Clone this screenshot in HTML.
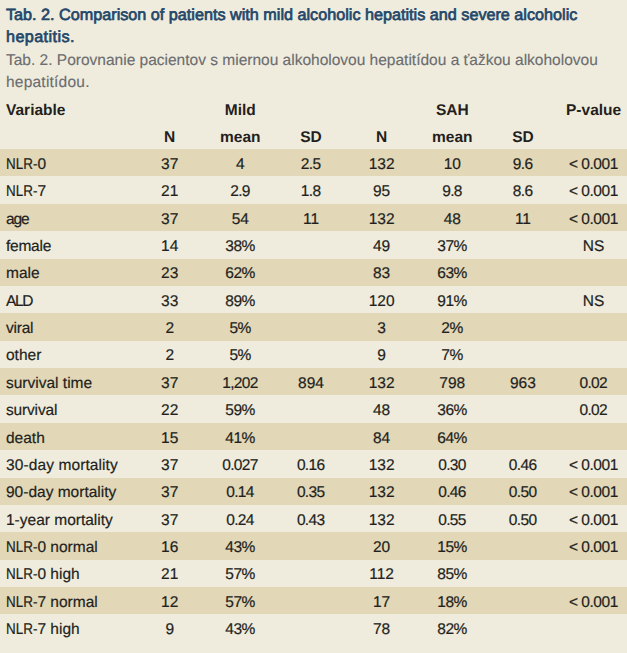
<!DOCTYPE html>
<html><head><meta charset="utf-8"><style>
html,body{margin:0;padding:0;}
body{width:627px;height:653px;overflow:hidden;background:#f0ecdd;position:relative;font-family:"Liberation Sans",sans-serif;text-rendering:geometricPrecision;color:#231f20;}
.t{position:absolute;white-space:nowrap;line-height:1.117;-webkit-text-stroke:0.2px currentColor;}
.b{font-weight:bold;-webkit-text-stroke:0px currentColor;}
.blue{color:#23476a;-webkit-text-stroke:0.7px currentColor;}
.gray{color:#6b6d70;-webkit-text-stroke:0.15px currentColor;}
.row{position:absolute;left:0;width:627px;height:27.375px;}
.dk{background:#e2d7b7;}
</style></head><body>
<div class="t blue" style="left:6.000px;top:6.339px;font-size:16.2px;text-align:left">Tab. 2. Comparison of patients with mild alcoholic hepatitis and severe alcoholic</div>
<div class="t blue" style="left:6.000px;top:28.339px;font-size:16.2px;text-align:left"><span style="letter-spacing:0.4px">hepatitis.</span></div>
<div class="t gray" style="left:6.000px;top:51.972px;font-size:15.5px;text-align:left">Tab. 2. Porovnanie pacientov s miernou alkoholovou hepatitídou a ťažkou alkoholovou</div>
<div class="t gray" style="left:6.000px;top:73.972px;font-size:15.5px;text-align:left"><span style="letter-spacing:0.22px">hepatitídou.</span></div>
<div class="t b" style="left:6.000px;top:102.022px;font-size:15.5px;text-align:left">Variable</div>
<div class="t b" style="left:205.025px;top:102.022px;font-size:15.5px;width:70.650px;text-align:center">Mild</div>
<div class="t b" style="left:416.975px;top:102.022px;font-size:15.5px;width:70.650px;text-align:center">SAH</div>
<div class="t b" style="left:558.275px;top:102.022px;font-size:15.5px;width:70.650px;text-align:center">P-value</div>
<div class="t b" style="left:134.375px;top:129.398px;font-size:15.5px;width:70.650px;text-align:center">N</div>
<div class="t b" style="left:205.025px;top:129.398px;font-size:15.5px;width:70.650px;text-align:center">mean</div>
<div class="t b" style="left:275.675px;top:129.398px;font-size:15.5px;width:70.650px;text-align:center">SD</div>
<div class="t b" style="left:346.325px;top:129.398px;font-size:15.5px;width:70.650px;text-align:center">N</div>
<div class="t b" style="left:416.975px;top:129.398px;font-size:15.5px;width:70.650px;text-align:center">mean</div>
<div class="t b" style="left:487.625px;top:129.398px;font-size:15.5px;width:70.650px;text-align:center">SD</div>
<div class="row dk" style="top:149.000px"></div>
<div class="t" style="left:6.000px;top:155.773px;font-size:15.5px;text-align:left"><span style="display:inline-block;width:31.4px"><span style="display:inline-block;transform:scaleX(0.867);transform-origin:0 0">NLR-</span></span>0</div>
<div class="t" style="left:134.375px;top:155.773px;font-size:15.5px;width:70.650px;text-align:center">37</div>
<div class="t" style="left:205.025px;top:155.773px;font-size:15.5px;width:70.650px;text-align:center">4</div>
<div class="t" style="left:275.675px;top:155.773px;font-size:15.5px;width:70.650px;text-align:center"><span style="letter-spacing:-0.65px;margin-right:0.65px">2.5</span></div>
<div class="t" style="left:346.325px;top:155.773px;font-size:15.5px;width:70.650px;text-align:center">132</div>
<div class="t" style="left:416.975px;top:155.773px;font-size:15.5px;width:70.650px;text-align:center">10</div>
<div class="t" style="left:487.625px;top:155.773px;font-size:15.5px;width:70.650px;text-align:center"><span style="letter-spacing:-0.65px;margin-right:0.65px">9.6</span></div>
<div class="t" style="left:558.275px;top:155.773px;font-size:15.5px;width:70.650px;text-align:center"><span style="letter-spacing:-0.47px;margin-right:0.47px">&lt; 0.001</span></div>
<div class="t" style="left:6.000px;top:183.148px;font-size:15.5px;text-align:left"><span style="display:inline-block;width:31.4px"><span style="display:inline-block;transform:scaleX(0.867);transform-origin:0 0">NLR-</span></span>7</div>
<div class="t" style="left:134.375px;top:183.148px;font-size:15.5px;width:70.650px;text-align:center">21</div>
<div class="t" style="left:205.025px;top:183.148px;font-size:15.5px;width:70.650px;text-align:center"><span style="letter-spacing:-0.65px;margin-right:0.65px">2.9</span></div>
<div class="t" style="left:275.675px;top:183.148px;font-size:15.5px;width:70.650px;text-align:center"><span style="letter-spacing:-0.65px;margin-right:0.65px">1.8</span></div>
<div class="t" style="left:346.325px;top:183.148px;font-size:15.5px;width:70.650px;text-align:center">95</div>
<div class="t" style="left:416.975px;top:183.148px;font-size:15.5px;width:70.650px;text-align:center"><span style="letter-spacing:-0.65px;margin-right:0.65px">9.8</span></div>
<div class="t" style="left:487.625px;top:183.148px;font-size:15.5px;width:70.650px;text-align:center"><span style="letter-spacing:-0.65px;margin-right:0.65px">8.6</span></div>
<div class="t" style="left:558.275px;top:183.148px;font-size:15.5px;width:70.650px;text-align:center"><span style="letter-spacing:-0.47px;margin-right:0.47px">&lt; 0.001</span></div>
<div class="row dk" style="top:203.750px"></div>
<div class="t" style="left:6.000px;top:210.523px;font-size:15.5px;text-align:left"><span style="letter-spacing:-1.1px">age</span></div>
<div class="t" style="left:134.375px;top:210.523px;font-size:15.5px;width:70.650px;text-align:center">37</div>
<div class="t" style="left:205.025px;top:210.523px;font-size:15.5px;width:70.650px;text-align:center">54</div>
<div class="t" style="left:275.675px;top:210.523px;font-size:15.5px;width:70.650px;text-align:center">11</div>
<div class="t" style="left:346.325px;top:210.523px;font-size:15.5px;width:70.650px;text-align:center">132</div>
<div class="t" style="left:416.975px;top:210.523px;font-size:15.5px;width:70.650px;text-align:center">48</div>
<div class="t" style="left:487.625px;top:210.523px;font-size:15.5px;width:70.650px;text-align:center">11</div>
<div class="t" style="left:558.275px;top:210.523px;font-size:15.5px;width:70.650px;text-align:center"><span style="letter-spacing:-0.47px;margin-right:0.47px">&lt; 0.001</span></div>
<div class="t" style="left:6.000px;top:237.898px;font-size:15.5px;text-align:left"><span style="letter-spacing:-0.25px">female</span></div>
<div class="t" style="left:134.375px;top:237.898px;font-size:15.5px;width:70.650px;text-align:center">14</div>
<div class="t" style="left:205.025px;top:237.898px;font-size:15.5px;width:70.650px;text-align:center"><span style="letter-spacing:-0.5px;margin-right:0.5px">38%</span></div>
<div class="t" style="left:346.325px;top:237.898px;font-size:15.5px;width:70.650px;text-align:center">49</div>
<div class="t" style="left:416.975px;top:237.898px;font-size:15.5px;width:70.650px;text-align:center"><span style="letter-spacing:-0.5px;margin-right:0.5px">37%</span></div>
<div class="t" style="left:558.275px;top:237.898px;font-size:15.5px;width:70.650px;text-align:center">NS</div>
<div class="row dk" style="top:258.500px"></div>
<div class="t" style="left:6.000px;top:265.273px;font-size:15.5px;text-align:left">male</div>
<div class="t" style="left:134.375px;top:265.273px;font-size:15.5px;width:70.650px;text-align:center">23</div>
<div class="t" style="left:205.025px;top:265.273px;font-size:15.5px;width:70.650px;text-align:center"><span style="letter-spacing:-0.5px;margin-right:0.5px">62%</span></div>
<div class="t" style="left:346.325px;top:265.273px;font-size:15.5px;width:70.650px;text-align:center">83</div>
<div class="t" style="left:416.975px;top:265.273px;font-size:15.5px;width:70.650px;text-align:center"><span style="letter-spacing:-0.5px;margin-right:0.5px">63%</span></div>
<div class="t" style="left:6.000px;top:292.648px;font-size:15.5px;text-align:left"><span style="letter-spacing:-1.3px">ALD</span></div>
<div class="t" style="left:134.375px;top:292.648px;font-size:15.5px;width:70.650px;text-align:center">33</div>
<div class="t" style="left:205.025px;top:292.648px;font-size:15.5px;width:70.650px;text-align:center"><span style="letter-spacing:-0.5px;margin-right:0.5px">89%</span></div>
<div class="t" style="left:346.325px;top:292.648px;font-size:15.5px;width:70.650px;text-align:center">120</div>
<div class="t" style="left:416.975px;top:292.648px;font-size:15.5px;width:70.650px;text-align:center"><span style="letter-spacing:-0.5px;margin-right:0.5px">91%</span></div>
<div class="t" style="left:558.275px;top:292.648px;font-size:15.5px;width:70.650px;text-align:center">NS</div>
<div class="row dk" style="top:313.250px"></div>
<div class="t" style="left:6.000px;top:320.023px;font-size:15.5px;text-align:left"><span style="letter-spacing:-0.22px">viral</span></div>
<div class="t" style="left:134.375px;top:320.023px;font-size:15.5px;width:70.650px;text-align:center">2</div>
<div class="t" style="left:205.025px;top:320.023px;font-size:15.5px;width:70.650px;text-align:center"><span style="letter-spacing:-0.5px;margin-right:0.5px">5%</span></div>
<div class="t" style="left:346.325px;top:320.023px;font-size:15.5px;width:70.650px;text-align:center">3</div>
<div class="t" style="left:416.975px;top:320.023px;font-size:15.5px;width:70.650px;text-align:center"><span style="letter-spacing:-0.5px;margin-right:0.5px">2%</span></div>
<div class="t" style="left:6.000px;top:347.398px;font-size:15.5px;text-align:left">other</div>
<div class="t" style="left:134.375px;top:347.398px;font-size:15.5px;width:70.650px;text-align:center">2</div>
<div class="t" style="left:205.025px;top:347.398px;font-size:15.5px;width:70.650px;text-align:center"><span style="letter-spacing:-0.5px;margin-right:0.5px">5%</span></div>
<div class="t" style="left:346.325px;top:347.398px;font-size:15.5px;width:70.650px;text-align:center">9</div>
<div class="t" style="left:416.975px;top:347.398px;font-size:15.5px;width:70.650px;text-align:center"><span style="letter-spacing:-0.5px;margin-right:0.5px">7%</span></div>
<div class="row dk" style="top:368.000px"></div>
<div class="t" style="left:6.000px;top:374.773px;font-size:15.5px;text-align:left">survival time</div>
<div class="t" style="left:134.375px;top:374.773px;font-size:15.5px;width:70.650px;text-align:center">37</div>
<div class="t" style="left:205.025px;top:374.773px;font-size:15.5px;width:70.650px;text-align:center"><span style="letter-spacing:-0.65px;margin-right:0.65px">1,202</span></div>
<div class="t" style="left:275.675px;top:374.773px;font-size:15.5px;width:70.650px;text-align:center">894</div>
<div class="t" style="left:346.325px;top:374.773px;font-size:15.5px;width:70.650px;text-align:center">132</div>
<div class="t" style="left:416.975px;top:374.773px;font-size:15.5px;width:70.650px;text-align:center">798</div>
<div class="t" style="left:487.625px;top:374.773px;font-size:15.5px;width:70.650px;text-align:center">963</div>
<div class="t" style="left:558.275px;top:374.773px;font-size:15.5px;width:70.650px;text-align:center"><span style="letter-spacing:-0.65px;margin-right:0.65px">0.02</span></div>
<div class="t" style="left:6.000px;top:402.148px;font-size:15.5px;text-align:left"><span style="letter-spacing:-0.17px">survival</span></div>
<div class="t" style="left:134.375px;top:402.148px;font-size:15.5px;width:70.650px;text-align:center">22</div>
<div class="t" style="left:205.025px;top:402.148px;font-size:15.5px;width:70.650px;text-align:center"><span style="letter-spacing:-0.5px;margin-right:0.5px">59%</span></div>
<div class="t" style="left:346.325px;top:402.148px;font-size:15.5px;width:70.650px;text-align:center">48</div>
<div class="t" style="left:416.975px;top:402.148px;font-size:15.5px;width:70.650px;text-align:center"><span style="letter-spacing:-0.5px;margin-right:0.5px">36%</span></div>
<div class="t" style="left:558.275px;top:402.148px;font-size:15.5px;width:70.650px;text-align:center"><span style="letter-spacing:-0.65px;margin-right:0.65px">0.02</span></div>
<div class="row dk" style="top:422.750px"></div>
<div class="t" style="left:6.000px;top:429.523px;font-size:15.5px;text-align:left">death</div>
<div class="t" style="left:134.375px;top:429.523px;font-size:15.5px;width:70.650px;text-align:center">15</div>
<div class="t" style="left:205.025px;top:429.523px;font-size:15.5px;width:70.650px;text-align:center"><span style="letter-spacing:-0.5px;margin-right:0.5px">41%</span></div>
<div class="t" style="left:346.325px;top:429.523px;font-size:15.5px;width:70.650px;text-align:center">84</div>
<div class="t" style="left:416.975px;top:429.523px;font-size:15.5px;width:70.650px;text-align:center"><span style="letter-spacing:-0.5px;margin-right:0.5px">64%</span></div>
<div class="t" style="left:6.000px;top:456.898px;font-size:15.5px;text-align:left"><span style="letter-spacing:0.1px">30-day mortality</span></div>
<div class="t" style="left:134.375px;top:456.898px;font-size:15.5px;width:70.650px;text-align:center">37</div>
<div class="t" style="left:205.025px;top:456.898px;font-size:15.5px;width:70.650px;text-align:center"><span style="letter-spacing:-0.65px;margin-right:0.65px">0.027</span></div>
<div class="t" style="left:275.675px;top:456.898px;font-size:15.5px;width:70.650px;text-align:center"><span style="letter-spacing:-0.65px;margin-right:0.65px">0.16</span></div>
<div class="t" style="left:346.325px;top:456.898px;font-size:15.5px;width:70.650px;text-align:center">132</div>
<div class="t" style="left:416.975px;top:456.898px;font-size:15.5px;width:70.650px;text-align:center"><span style="letter-spacing:-0.65px;margin-right:0.65px">0.30</span></div>
<div class="t" style="left:487.625px;top:456.898px;font-size:15.5px;width:70.650px;text-align:center"><span style="letter-spacing:-0.65px;margin-right:0.65px">0.46</span></div>
<div class="t" style="left:558.275px;top:456.898px;font-size:15.5px;width:70.650px;text-align:center"><span style="letter-spacing:-0.47px;margin-right:0.47px">&lt; 0.001</span></div>
<div class="row dk" style="top:477.500px"></div>
<div class="t" style="left:6.000px;top:484.273px;font-size:15.5px;text-align:left">90-day mortality</div>
<div class="t" style="left:134.375px;top:484.273px;font-size:15.5px;width:70.650px;text-align:center">37</div>
<div class="t" style="left:205.025px;top:484.273px;font-size:15.5px;width:70.650px;text-align:center"><span style="letter-spacing:-0.65px;margin-right:0.65px">0.14</span></div>
<div class="t" style="left:275.675px;top:484.273px;font-size:15.5px;width:70.650px;text-align:center"><span style="letter-spacing:-0.65px;margin-right:0.65px">0.35</span></div>
<div class="t" style="left:346.325px;top:484.273px;font-size:15.5px;width:70.650px;text-align:center">132</div>
<div class="t" style="left:416.975px;top:484.273px;font-size:15.5px;width:70.650px;text-align:center"><span style="letter-spacing:-0.65px;margin-right:0.65px">0.46</span></div>
<div class="t" style="left:487.625px;top:484.273px;font-size:15.5px;width:70.650px;text-align:center"><span style="letter-spacing:-0.65px;margin-right:0.65px">0.50</span></div>
<div class="t" style="left:558.275px;top:484.273px;font-size:15.5px;width:70.650px;text-align:center"><span style="letter-spacing:-0.47px;margin-right:0.47px">&lt; 0.001</span></div>
<div class="t" style="left:6.000px;top:511.647px;font-size:15.5px;text-align:left">1-year mortality</div>
<div class="t" style="left:134.375px;top:511.647px;font-size:15.5px;width:70.650px;text-align:center">37</div>
<div class="t" style="left:205.025px;top:511.647px;font-size:15.5px;width:70.650px;text-align:center"><span style="letter-spacing:-0.65px;margin-right:0.65px">0.24</span></div>
<div class="t" style="left:275.675px;top:511.647px;font-size:15.5px;width:70.650px;text-align:center"><span style="letter-spacing:-0.65px;margin-right:0.65px">0.43</span></div>
<div class="t" style="left:346.325px;top:511.647px;font-size:15.5px;width:70.650px;text-align:center">132</div>
<div class="t" style="left:416.975px;top:511.647px;font-size:15.5px;width:70.650px;text-align:center"><span style="letter-spacing:-0.65px;margin-right:0.65px">0.55</span></div>
<div class="t" style="left:487.625px;top:511.647px;font-size:15.5px;width:70.650px;text-align:center"><span style="letter-spacing:-0.65px;margin-right:0.65px">0.50</span></div>
<div class="t" style="left:558.275px;top:511.647px;font-size:15.5px;width:70.650px;text-align:center"><span style="letter-spacing:-0.47px;margin-right:0.47px">&lt; 0.001</span></div>
<div class="row dk" style="top:532.250px"></div>
<div class="t" style="left:6.000px;top:539.022px;font-size:15.5px;text-align:left"><span style="display:inline-block;width:31.4px"><span style="display:inline-block;transform:scaleX(0.867);transform-origin:0 0">NLR-</span></span>0 normal</div>
<div class="t" style="left:134.375px;top:539.022px;font-size:15.5px;width:70.650px;text-align:center">16</div>
<div class="t" style="left:205.025px;top:539.022px;font-size:15.5px;width:70.650px;text-align:center"><span style="letter-spacing:-0.5px;margin-right:0.5px">43%</span></div>
<div class="t" style="left:346.325px;top:539.022px;font-size:15.5px;width:70.650px;text-align:center">20</div>
<div class="t" style="left:416.975px;top:539.022px;font-size:15.5px;width:70.650px;text-align:center"><span style="letter-spacing:-0.5px;margin-right:0.5px">15%</span></div>
<div class="t" style="left:558.275px;top:539.022px;font-size:15.5px;width:70.650px;text-align:center"><span style="letter-spacing:-0.47px;margin-right:0.47px">&lt; 0.001</span></div>
<div class="t" style="left:6.000px;top:566.397px;font-size:15.5px;text-align:left"><span style="display:inline-block;width:31.4px"><span style="display:inline-block;transform:scaleX(0.867);transform-origin:0 0">NLR-</span></span>0 high</div>
<div class="t" style="left:134.375px;top:566.397px;font-size:15.5px;width:70.650px;text-align:center">21</div>
<div class="t" style="left:205.025px;top:566.397px;font-size:15.5px;width:70.650px;text-align:center"><span style="letter-spacing:-0.5px;margin-right:0.5px">57%</span></div>
<div class="t" style="left:346.325px;top:566.397px;font-size:15.5px;width:70.650px;text-align:center">112</div>
<div class="t" style="left:416.975px;top:566.397px;font-size:15.5px;width:70.650px;text-align:center"><span style="letter-spacing:-0.5px;margin-right:0.5px">85%</span></div>
<div class="row dk" style="top:587.000px"></div>
<div class="t" style="left:6.000px;top:593.772px;font-size:15.5px;text-align:left"><span style="display:inline-block;width:31.4px"><span style="display:inline-block;transform:scaleX(0.867);transform-origin:0 0">NLR-</span></span>7 normal</div>
<div class="t" style="left:134.375px;top:593.772px;font-size:15.5px;width:70.650px;text-align:center">12</div>
<div class="t" style="left:205.025px;top:593.772px;font-size:15.5px;width:70.650px;text-align:center"><span style="letter-spacing:-0.5px;margin-right:0.5px">57%</span></div>
<div class="t" style="left:346.325px;top:593.772px;font-size:15.5px;width:70.650px;text-align:center">17</div>
<div class="t" style="left:416.975px;top:593.772px;font-size:15.5px;width:70.650px;text-align:center"><span style="letter-spacing:-0.5px;margin-right:0.5px">18%</span></div>
<div class="t" style="left:558.275px;top:593.772px;font-size:15.5px;width:70.650px;text-align:center"><span style="letter-spacing:-0.47px;margin-right:0.47px">&lt; 0.001</span></div>
<div class="t" style="left:6.000px;top:621.147px;font-size:15.5px;text-align:left"><span style="display:inline-block;width:31.4px"><span style="display:inline-block;transform:scaleX(0.867);transform-origin:0 0">NLR-</span></span>7 high</div>
<div class="t" style="left:134.375px;top:621.147px;font-size:15.5px;width:70.650px;text-align:center">9</div>
<div class="t" style="left:205.025px;top:621.147px;font-size:15.5px;width:70.650px;text-align:center"><span style="letter-spacing:-0.5px;margin-right:0.5px">43%</span></div>
<div class="t" style="left:346.325px;top:621.147px;font-size:15.5px;width:70.650px;text-align:center">78</div>
<div class="t" style="left:416.975px;top:621.147px;font-size:15.5px;width:70.650px;text-align:center"><span style="letter-spacing:-0.5px;margin-right:0.5px">82%</span></div>
</body></html>
